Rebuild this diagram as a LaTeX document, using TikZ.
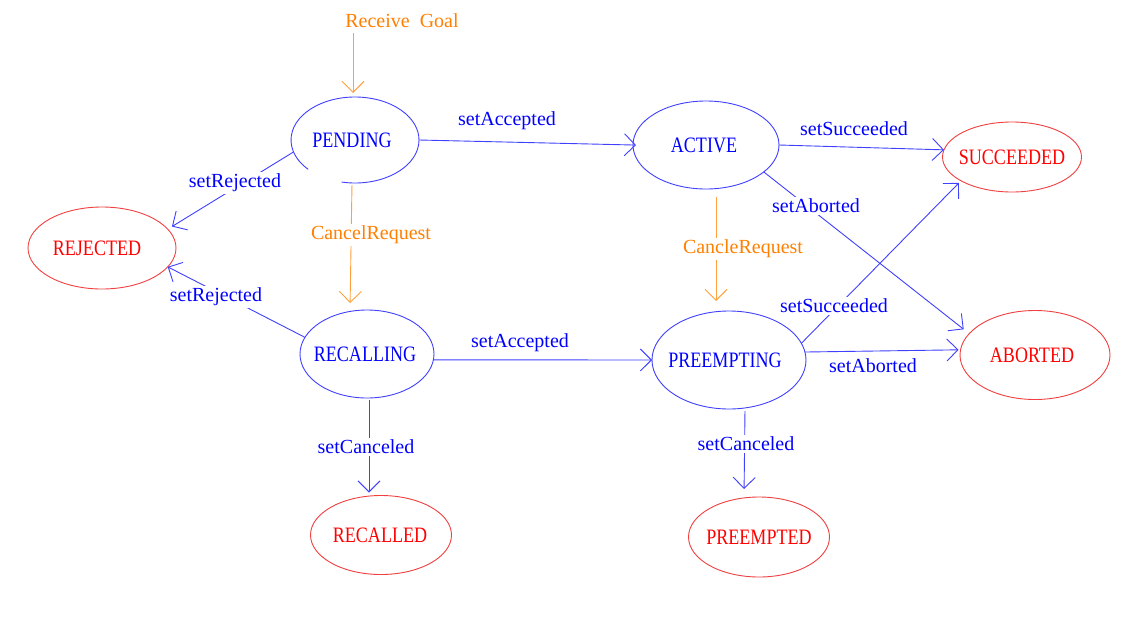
\documentclass[tikz,border=0pt]{standalone}
\usepackage{fontspec}
\setmainfont{Liberation Serif}
\newfontfamily\statefont{Liberation Serif}[FakeStretch=0.82]
\usetikzlibrary{shapes.geometric,arrows.meta}
\definecolor{txtblue}{RGB}{0,0,255}
\definecolor{lnblue}{RGB}{64,64,255}
\definecolor{txtred}{RGB}{255,0,0}
\definecolor{lnred}{RGB}{240,64,64}
\definecolor{txtorange}{RGB}{255,128,0}
\definecolor{lnorange}{RGB}{255,160,60}
\newcommand{\stxt}[2][0pt]{\makebox[0pt]{\hspace*{#1}#2}}
\begin{document}
\begin{tikzpicture}[x=1pt,y=-1pt,
  state/.style={ellipse, inner sep=0pt, outer sep=0pt, line width=0.9pt, font=\statefont\fontsize{22}{26}\selectfont},
  midstate/.style={state, draw=lnblue, text=txtblue},
  endstate/.style={state, draw=lnred, text=txtred},
  lbl/.style={font=\fontsize{20}{24}\selectfont, text=txtblue, inner sep=2pt},
  olbl/.style={lbl, text=txtorange},
  wlbl/.style={fill=white},
  conn/.style={draw=lnblue, line width=0.9pt, -{Straight Barb[length=11pt,width=22pt]}},
  oconn/.style={conn, draw=lnorange},
]
\fill[white] (0,0) rectangle (1141,635);
\useasboundingbox (0,0) rectangle (1141,635);

% states
\node[state, text=txtblue, minimum width=128pt, minimum height=86pt] (pend) at (355,140) {\stxt[-6pt]{PENDING}};
\draw[lnblue, line width=0.9pt] (pend.center) ++(258:64pt and 43pt) arc[start angle=258, end angle=583, x radius=64pt, y radius=43pt];
\node[midstate, minimum width=146pt, minimum height=88pt] (active) at (706,145) {\stxt[-4pt]{ACTIVE}};
\node[endstate, minimum width=139pt, minimum height=70pt] (succ) at (1012,157) {\stxt{SUCCEEDED}};
\node[endstate, minimum width=148pt, minimum height=82pt] (rej) at (102,248) {\stxt[-10pt]{REJECTED}};
\node[midstate, minimum width=134pt, minimum height=88pt] (recall) at (367,354) {\stxt[-4pt]{RECALLING}};
\node[midstate, minimum width=154pt, minimum height=98pt] (preempt) at (729,360) {\stxt[-8pt]{PREEMPTING}};
\node[endstate, minimum width=150pt, minimum height=89pt] (abort) at (1035,355) {\stxt[-6pt]{ABORTED}};
\node[endstate, minimum width=141pt, minimum height=79pt] (recalled) at (381,535) {\stxt[-2pt]{RECALLED}};
\node[endstate, minimum width=141pt, minimum height=80pt] (preempted) at (759,537) {\stxt{PREEMPTED}};

% incoming goal
\node[olbl] (goal) at (402,21) {Receive~~Goal};
\coordinate (gin) at ([xshift=-2pt, yshift=4pt]pend.north);
\draw[oconn, shorten <=3pt] (goal.south -| gin) -- (gin);

% connectors
\draw[conn, shorten >=-3pt] (pend.east) -- (active.west);
\draw[conn] (active.east) -- (succ.174);
\draw[conn, shorten >=7pt] (active.-25) -- (abort.162);
\draw[conn, shorten >=5pt] (pend.191) -- (rej.16);
\draw[conn] (recall.165) -- (rej.-16);
\draw[oconn, shorten <=2pt, shorten >=7pt] ([xshift=-3pt]pend.south) -- ([xshift=-17pt]recall.north);
\draw[oconn, shorten <=8pt, shorten >=10pt] ([xshift=10pt]active.south) -- ([xshift=-13pt]preempt.north);
\draw[conn] (recall.-5) -- (preempt.west);
\draw[conn, shorten >=3pt] (preempt.13) -- (succ.205);
\draw[conn, shorten >=2pt] (preempt.6) -- (abort.176);
\draw[conn, shorten <=2pt, shorten >=3pt] ([xshift=2pt]recall.south) -- ([xshift=-12pt]recalled.north);
\draw[conn, shorten <=2pt, shorten >=8pt] ([xshift=16pt]preempt.south) -- ([xshift=-15pt]preempted.north);

% labels
\node[lbl] (lacc1) at (507,121) {setAccepted};
\node[lbl] (lsucc1) at (854,129) {setSucceeded};
\node[lbl, wlbl] (labort1) at (816,206) {setAborted};
\node[lbl, wlbl] (lrej1) at (235,183) {setRejected};
\node[lbl, wlbl] (lrej2) at (216,297) {setRejected};
\node[olbl, wlbl] (lcancel) at (371,235) {CancelRequest};
\node[olbl, wlbl] (lcancle) at (743,249) {CancleRequest};
\node[lbl] (lacc2) at (520,343) {setAccepted};
\node[lbl, wlbl] (lsucc2) at (834,306) {setSucceeded};
\node[lbl] (labort2) at (873,366) {setAborted};
\node[lbl, wlbl] (lcan1) at (366,447) {setCanceled};
\node[lbl, wlbl] (lcan2) at (746,444) {setCanceled};
\end{tikzpicture}
\end{document}
